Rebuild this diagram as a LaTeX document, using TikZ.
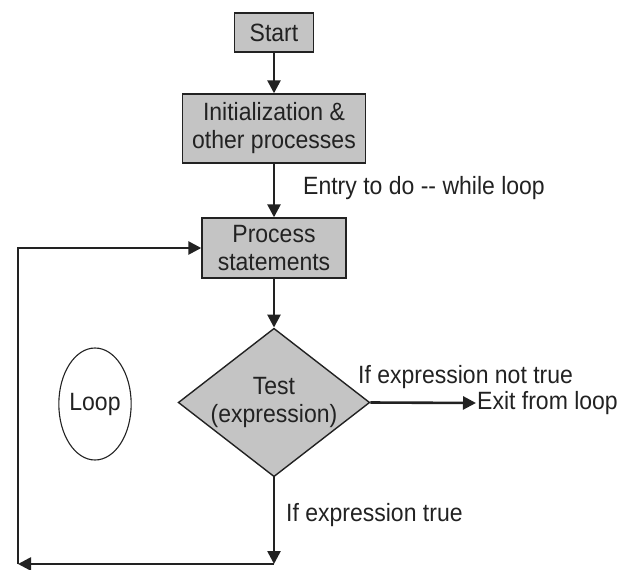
\documentclass[tikz,border=0pt]{standalone}
\usepackage{fontspec}
\setmainfont[FakeStretch=0.92]{Liberation Sans}
\usetikzlibrary{shapes.geometric,arrows.meta}
\definecolor{boxgray}{HTML}{C4C4C4}
\definecolor{ink}{HTML}{222222}
\begin{document}
\begin{tikzpicture}[x=1pt,y=-1pt,
  every node/.style={font=\fontsize{25}{28}\selectfont, text=ink},
  procbox/.style={draw=ink, line width=1.4pt, fill=boxgray, align=center, inner sep=0pt},
  arr/.style={draw=ink, line width=2.6pt, -{Triangle[length=13pt,width=13pt]}},
  plain/.style={draw=ink, line width=2.6pt}
]
\path[use as bounding box] (0,0) rectangle (624,570);
\node[procbox, minimum width=79pt, minimum height=39pt] (start) at (274,32.5) {Start};
\node[procbox, minimum width=183pt, minimum height=69pt] (init) at (274,128.5) {Initialization \&\\other processes};
\node[procbox, minimum width=144pt, minimum height=60pt] (proc) at (274,248) {Process\\statements};
\node[diamond, shape aspect=1.29, draw=ink, line width=1.4pt, fill=boxgray, align=center, inner sep=0pt,
      minimum width=190pt, minimum height=147pt] (test) at (274,402.5) {Test\\(expression)};
\node[ellipse, draw=ink, line width=1.1pt, minimum width=67pt, minimum height=112pt, inner sep=0pt] (loop) at (95,404) {Loop};
\node[anchor=west, inner sep=0pt] (entry) at (303,188) {Entry to do -{}- while loop};
\node[anchor=west, inner sep=0pt] (nottrue) at (358,377) {If expression not true};
\node[anchor=west, inner sep=1pt] (exit) at (476,403) {Exit from loop};
\node[anchor=west, inner sep=0pt] (true) at (286,515) {If expression true};
\coordinate (bR) at (274,564);
\coordinate (bL) at (18,564);
\coordinate (tL) at (18,248);
\draw[arr] (start) -- (init);
\draw[arr] (init) -- (proc);
\draw[arr] (proc) -- (test);
\draw[arr] (test.east) -- (exit.west);
\draw[arr] (test.south) -- (bR);
\draw[arr] (bR) -- (bL);
\draw[arr] (bL) -- (tL) -- (proc.west);
\end{tikzpicture}
\end{document}
